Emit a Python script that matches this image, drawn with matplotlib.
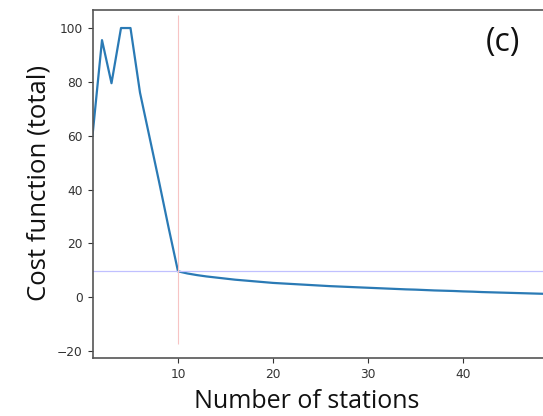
import matplotlib
matplotlib.use("Agg")
import matplotlib.pyplot as plt

# Data
stations = list(range(1, 51))
cost = [60, 95.5, 79.5, 100, 100, 76, 59.5, 43, 26, 9.6,
        8.8, 8.2, 7.7, 7.3, 6.9, 6.5, 6.2, 5.9, 5.6, 5.3,
        5.1, 4.9, 4.7, 4.5, 4.3, 4.1, 3.95, 3.8, 3.65, 3.5,
        3.35, 3.2, 3.05, 2.9, 2.8, 2.65, 2.5, 2.4, 2.3, 2.15,
        2.05, 1.9, 1.8, 1.7, 1.6, 1.5, 1.4, 1.3, 1.2, 1.1]
best_n = 10
best_cost = 9.6
vline_range = (-17.5, 105)
xticks = [10, 20, 30, 40]
yticks = [-20, 0, 20, 40, 60, 80, 100]

W, H = 543, 416
fig = plt.figure(figsize=(W/100, H/100), dpi=100)
ax = fig.add_axes([92.5/W, 58/H, 465.5/W, 348/H])

ax.plot(stations, cost, color="#2a7ab5", lw=1.6)
ax.axhline(best_cost, color="#c0c0ff", lw=0.9)
ax.vlines(best_n, vline_range[0], vline_range[1], color="#f7c4c4", lw=0.8)

ax.set_xlim(1, 50)
ax.set_ylim(-22.6, 106.7)
ax.set_xticks(xticks)
ax.set_yticks(yticks)
ax.tick_params(labelsize=8.8, colors="#333333", length=3.5)
for s in ax.spines.values():
    s.set_color("#555555")
    s.set_linewidth(1.2)

fig.text(307/W, 1 - 402/H, "Number of stations", ha="center", va="center",
         fontsize=18, family="Open Sans", color="#111111")
fig.text(39/W, 1 - 183/H, "Cost function (total)", ha="center", va="center",
         rotation=90, fontsize=18.5, family="Open Sans", color="#111111")
fig.text(503/W, 1 - 43/H, "(c)", ha="center", va="center",
         fontsize=23, family="Open Sans", color="#111111")

fig.savefig("out.png", dpi=100)
